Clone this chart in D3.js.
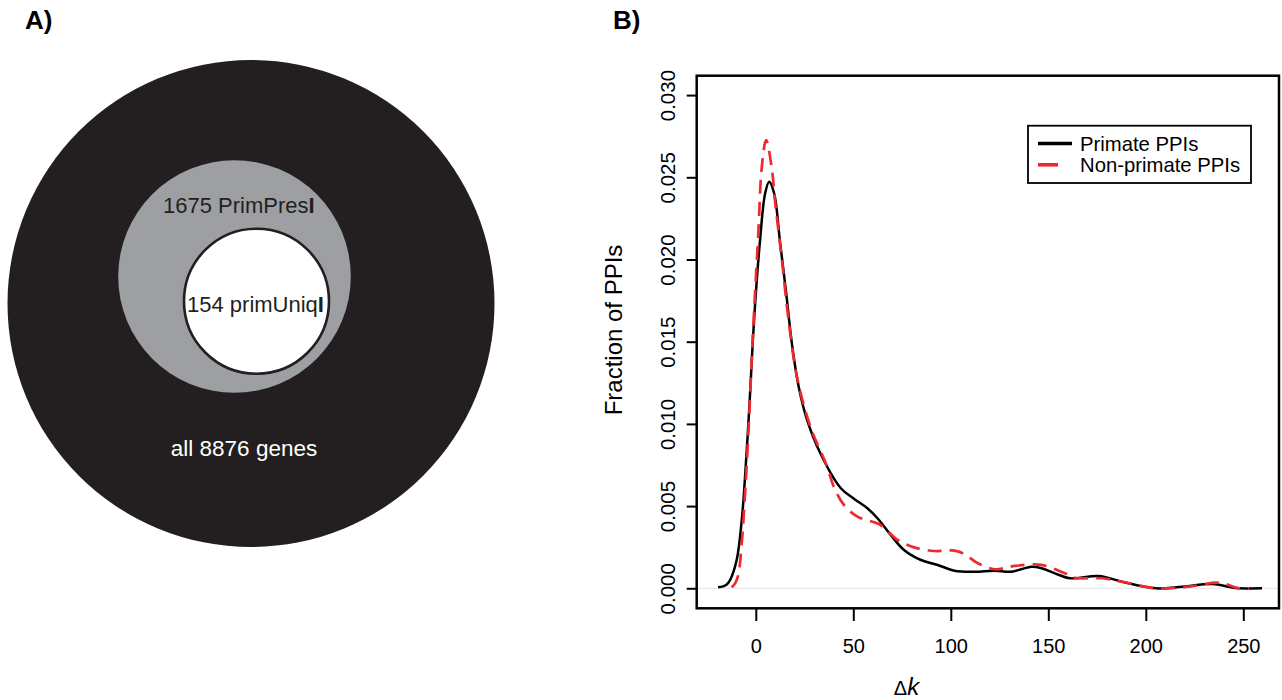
<!DOCTYPE html>
<html>
<head>
<meta charset="utf-8">
<script src="https://cdn.jsdelivr.net/npm/d3@7"></script>
<style>
  html, body { margin: 0; padding: 0; background: #ffffff; }
  svg { display: block; font-family: "Liberation Sans", Arial, Helvetica, sans-serif; }
</style>
</head>
<body>
<svg id="chart" width="1282" height="700"></svg>
<script>
// ---------------- DATA ----------------
const vennLabels = ["all 8876 genes", "1675 PrimPres", "154 primUniq"];
const vennCounts = [8876, 1675, 154];

const xTicks = [0, 50, 100, 150, 200, 250];
const yTicks = [0.000, 0.005, 0.010, 0.015, 0.020, 0.025, 0.030];
const yTickLabels = ["0.000", "0.005", "0.010", "0.015", "0.020", "0.025", "0.030"];

const seriesNames = ["Primate PPIs", "Non-primate PPIs"];

// Primate PPIs density: [delta k, fraction]
const primateK = [-19.3, -15.2, -13.2, -9.8, -7.2, -5.5, -3.3, -1.5, 0.15, 2.2, 4.8, 6.9, 9.4, 12.5, 15.6, 18.5, 22, 26.3, 33.1, 43.5, 50.3, 57.2, 62.4, 69.2, 76, 84.7, 93.3, 101.9, 112.2, 122.5, 131, 141.4, 146.5, 153.4, 161.1, 175.8, 187.8, 205, 218.7, 234.2, 246, 259.6];
const primateV = [0.00006, 0.0002, 0.0005, 0.00172, 0.00415, 0.00679, 0.01105, 0.0151, 0.01814, 0.02119, 0.02403, 0.02473, 0.02403, 0.02099, 0.01794, 0.0149, 0.01226, 0.01024, 0.00821, 0.0061, 0.00545, 0.00487, 0.00426, 0.00324, 0.00233, 0.00172, 0.00142, 0.00107, 0.00101, 0.00107, 0.00101, 0.00131, 0.00122, 0.00091, 0.00061, 0.00075, 0.0004, 0.0, 0.0001, 0.00026, 0.00002, 0.0];

// Non-primate PPIs density
const nonPrimateK = [-12.4, -10.6, -9, -7.2, -5.5, -3.8, -2.1, -0.4, 1.3, 3.1, 5.3, 8.2, 9.9, 13.4, 16.8, 21.1, 28, 36.6, 40, 45.2, 52.1, 64, 72.7, 81.2, 91.5, 101.9, 106.2, 113.9, 122.5, 132.8, 146.5, 158.5, 163.7, 177.6, 187.8, 205, 222, 237.6, 248, 253];
const nonPrimateV = [0.00006, 0.0003, 0.0008, 0.00274, 0.00578, 0.00943, 0.01389, 0.01794, 0.02159, 0.02564, 0.02727, 0.02555, 0.0235, 0.01997, 0.01632, 0.01287, 0.00983, 0.0074, 0.00618, 0.00507, 0.00436, 0.00385, 0.00294, 0.00249, 0.00227, 0.00229, 0.00213, 0.00152, 0.00116, 0.00136, 0.00142, 0.00091, 0.00064, 0.00061, 0.0004, 0.0, 0.0001, 0.00034, 0.0, 0.0];

// ---------------- DRAW ----------------
(function () {
const svg = d3.select("#chart");
const dark = "#231f20";

// ===== Panel A =====
svg.append("text").attr("x", 25).attr("y", 29)
  .attr("font-size", 26).attr("font-weight", "bold").attr("fill", "#000").text("A)");

const venn = [
  { cx: 251, cy: 303.5, r: 243.5, fill: dark, stroke: "none", sw: 0 },
  { cx: 234.5, cy: 276.5, r: 116.3, fill: "#9d9fa2", stroke: "none", sw: 0 },
  { cx: 256.5, cy: 301.2, r: 72.5, fill: "#ffffff", stroke: dark, sw: 2.6 }
];
svg.selectAll("circle.venn").data(venn).enter().append("circle")
  .attr("class", "venn")
  .attr("cx", d => d.cx).attr("cy", d => d.cy).attr("r", d => d.r)
  .attr("fill", d => d.fill).attr("stroke", d => d.stroke).attr("stroke-width", d => d.sw);

svg.append("text").attr("x", 244).attr("y", 456).attr("text-anchor", "middle")
  .attr("font-size", 22.5).attr("fill", "#ffffff").text(vennLabels[0]);

const t1 = svg.append("text").attr("x", 163).attr("y", 213)
  .attr("font-size", 22).attr("fill", dark);
t1.append("tspan").text(vennLabels[1]);
t1.append("tspan").attr("font-weight", "bold").text("I");

const t2 = svg.append("text").attr("x", 187).attr("y", 312)
  .attr("font-size", 22).attr("fill", dark);
t2.append("tspan").text(vennLabels[2]);
t2.append("tspan").attr("font-weight", "bold").text("I");

// ===== Panel B =====
svg.append("text").attr("x", 613).attr("y", 29)
  .attr("font-size", 26).attr("font-weight", "bold").attr("fill", "#000").text("B)");

const pLeft = 696.7, pRight = 1279, pTop = 75.7, pBottom = 608.3;
const x = d3.scaleLinear().domain([-30.3, 268.3]).range([pLeft, pRight]);
const y = d3.scaleLinear().domain([-0.001217, 0.03118]).range([pBottom, pTop]);

svg.append("line")
  .attr("x1", pLeft).attr("x2", pRight).attr("y1", y(0)).attr("y2", y(0))
  .attr("stroke", "#e3e3e3").attr("stroke-width", 1);

const line = d3.line().x(d => x(d[0])).y(d => y(d[1])).curve(d3.curveCatmullRom.alpha(0.5));

const primate = primateK.map((k, i) => [k, primateV[i]]);
const nonPrimate = nonPrimateK.map((k, i) => [k, nonPrimateV[i]]);

svg.append("path").datum(primate).attr("d", line)
  .attr("fill", "none").attr("stroke", "#000").attr("stroke-width", 2.5)
  .attr("stroke-linejoin", "round");
svg.append("path").datum(nonPrimate).attr("d", line)
  .attr("fill", "none").attr("stroke", "#ee2a2e").attr("stroke-width", 2.7)
  .attr("stroke-dasharray", "14,8");

const xAxis = d3.axisBottom(x).tickValues(xTicks).tickSize(12.7).tickFormat(d3.format("d"));
const gx = svg.append("g").attr("transform", `translate(0,${pBottom})`).call(xAxis);
gx.select(".domain").remove();
gx.selectAll(".tick line").attr("stroke", "#000").attr("stroke-width", 2);
gx.selectAll(".tick text").attr("font-size", 20).attr("fill", "#000")
  .attr("font-family", "'Liberation Sans', Arial, sans-serif")
  .attr("dy", null).attr("y", 45);

const yAxis = d3.axisLeft(y).tickValues(yTicks).tickSize(10).tickFormat((d, i) => yTickLabels[i]);
const gy = svg.append("g").attr("transform", `translate(${pLeft},0)`).call(yAxis);
gy.select(".domain").remove();
gy.selectAll(".tick line").attr("stroke", "#000").attr("stroke-width", 2);
gy.selectAll(".tick text")
  .attr("font-size", 20.5).attr("fill", "#000")
  .attr("font-family", "'Liberation Sans', Arial, sans-serif")
  .attr("x", 0).attr("dy", null)
  .attr("text-anchor", "middle")
  .attr("transform", `translate(${675 - pLeft},0) rotate(-90)`);

svg.append("rect").attr("x", pLeft).attr("y", pTop)
  .attr("width", pRight - pLeft).attr("height", pBottom - pTop)
  .attr("fill", "none").attr("stroke", "#000").attr("stroke-width", 2.5);

svg.append("text")
  .attr("transform", `translate(622,${(pTop + pBottom) / 2 - 12}) rotate(-90)`)
  .attr("text-anchor", "middle").attr("font-size", 24).attr("fill", "#000")
  .text("Fraction of PPIs");

const xl = svg.append("text").attr("x", 906.5).attr("y", 695)
  .attr("text-anchor", "middle").attr("font-size", 24).attr("fill", "#000");
xl.append("tspan").attr("font-size", 20).text("Δ");
xl.append("tspan").attr("font-style", "italic").text("k");

const lg = { x: 1028, y: 125.7, w: 223, h: 57.3 };
svg.append("rect").attr("x", lg.x).attr("y", lg.y).attr("width", lg.w).attr("height", lg.h)
  .attr("fill", "#fff").attr("stroke", "#000").attr("stroke-width", 1.8);
const legendItems = [
  { name: seriesNames[0], color: "#000", dash: null, yy: 143.5 },
  { name: seriesNames[1], color: "#ee2a2e", dash: "20,20", yy: 164.8 }
];
legendItems.forEach(it => {
  svg.append("line").attr("x1", 1038).attr("x2", 1072).attr("y1", it.yy).attr("y2", it.yy)
    .attr("stroke", it.color).attr("stroke-width", 3.6)
    .attr("stroke-dasharray", it.dash);
  svg.append("text").attr("x", 1080).attr("y", it.yy + 7)
    .attr("font-size", 20.3).attr("fill", "#000").text(it.name);
});
})();
</script>
</body>
</html>
